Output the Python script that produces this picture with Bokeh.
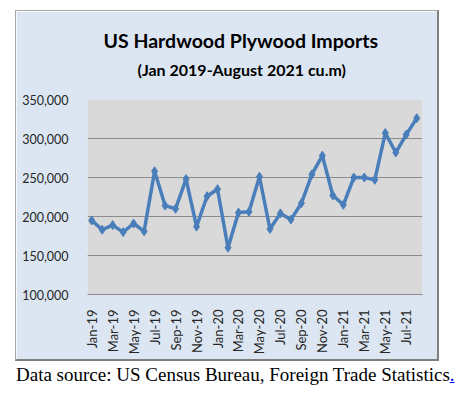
import math
from bokeh.plotting import figure
from bokeh.models import (Range1d, FixedTicker, NumeralTickFormatter, Title, Div,
                          ColumnDataSource)
from bokeh.layouts import column
from bokeh.embed import file_html
from bokeh.resources import INLINE

months = ["Jan-19", "Feb-19", "Mar-19", "Apr-19", "May-19", "Jun-19", "Jul-19", "Aug-19",
          "Sep-19", "Oct-19", "Nov-19", "Dec-19", "Jan-20", "Feb-20", "Mar-20", "Apr-20",
          "May-20", "Jun-20", "Jul-20", "Aug-20", "Sep-20", "Oct-20", "Nov-20", "Dec-20",
          "Jan-21", "Feb-21", "Mar-21", "Apr-21", "May-21", "Jun-21", "Jul-21", "Aug-21"]
imports = [195000, 183000, 189000, 180000, 191000, 181000, 258000, 214000,
           210000, 248000, 187000, 226000, 235000, 160000, 205000, 206000,
           251000, 184000, 204000, 196000, 217000, 254000, 278000, 227000,
           215000, 250000, 250000, 247000, 307000, 282000, 305000, 326000]
y_ticks = [100000, 150000, 200000, 250000, 300000, 350000]

idx = list(range(len(months)))
src = ColumnDataSource(dict(x=idx, y=imports, m=months))

p = figure(width=424, height=351, output_backend="svg", toolbar_location=None,
           x_range=Range1d(-0.4, 31.55), y_range=Range1d(100000, 350000),
           min_border_left=71, min_border_right=18, min_border_top=88,
           min_border_bottom=68,
           border_fill_color="#dce6f2", background_fill_color="#d9d9d9",
           outline_line_color=None)
p.styles = {"margin-left": "15px", "margin-top": "10px",
            "border-left": "1px solid #a6a6a6", "border-top": "1px solid #a6a6a6",
            "border-right": "2px solid #7f7f7f", "border-bottom": "2px solid #7f7f7f"}

p.add_layout(Title(text="(Jan 2019-August 2021 cu.m)", align="left", offset=50,
                   text_font="Lato", text_font_size="16px", text_font_style="bold",
                   text_color="#000000", standoff=0,
                   padding=dict(left=0, right=0, top=0, bottom=21)), "above")
p.add_layout(Title(text="US Hardwood Plywood Imports", align="left", offset=16,
                   text_font="Lato", text_font_size="19.5px", text_font_style="bold",
                   text_color="#000000", standoff=12), "above")

p.line("x", "y", source=src, line_color="#4a7ebb", line_width=3.5)
p.scatter("x", "y", source=src, marker="diamond", size=9, fill_color="#4a7ebb",
          line_color="#4a7ebb")

p.xgrid.grid_line_color = None
p.ygrid.grid_line_color = "#8c8c8c"
p.ygrid.grid_line_width = 1

p.yaxis.ticker = FixedTicker(ticks=y_ticks)
p.yaxis.formatter = NumeralTickFormatter(format="0,0")
p.yaxis.axis_line_color = None
p.yaxis.major_tick_line_color = None
p.yaxis.minor_tick_line_color = None
p.yaxis.major_label_standoff = 13
p.yaxis.major_label_text_font = "Lato"
p.yaxis.major_label_text_font_size = "12.5px"
p.yaxis.major_label_text_color = "#262626"

p.xaxis.ticker = FixedTicker(ticks=idx[::2])
p.xaxis.major_label_overrides = {i: months[i] for i in idx[::2]}
p.xaxis.major_label_orientation = math.pi / 2
p.xaxis.axis_line_color = "#8c8c8c"
p.xaxis.major_tick_line_color = None
p.xaxis.minor_tick_line_color = None
p.xaxis.major_label_standoff = 9
p.xaxis.major_label_text_font = "Lato"
p.xaxis.major_label_text_font_size = "13px"
p.xaxis.major_label_text_color = "#262626"

note = Div(text='Data source: US Census Bureau, Foreign Trade Statistics'
                '<a href="#" style="color:#0000ee;text-decoration:underline">.</a>',
           styles={"font-family": "'Liberation Serif', 'Times New Roman', serif",
                   "font-size": "19px", "color": "#000000",
                   "margin-left": "16px", "margin-top": "0px"})

layout = column(p, note, spacing=0)
open("out.html", "w").write(file_html(layout, INLINE))
